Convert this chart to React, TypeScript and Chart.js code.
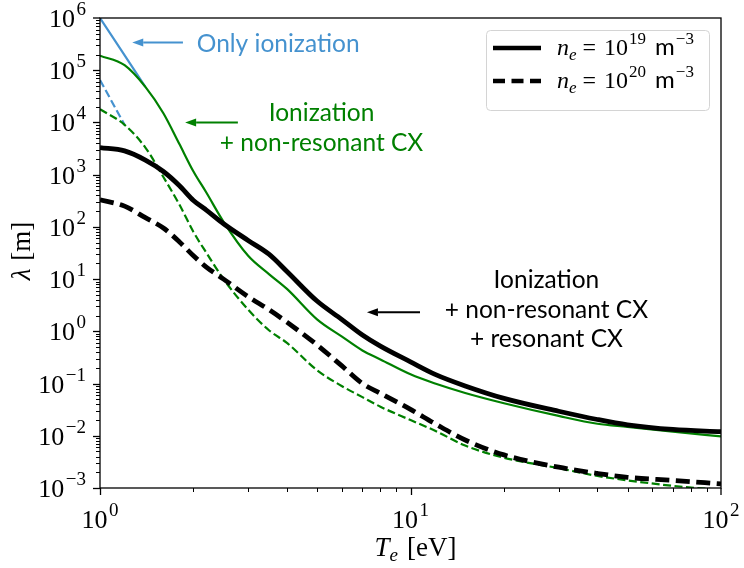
import React, { useEffect, useRef } from "react";
import { Chart, registerables } from "chart.js";

Chart.register(...registerables);

// Electron temperature grid [eV]
const temperatures = [1, 1.2, 1.4, 1.6, 1.8, 2, 2.2, 2.5, 3, 3.5, 4, 5, 6, 7, 8, 10, 12, 15, 20, 30, 40, 50, 70, 100];

// Mean free path [m]: ionization + non-resonant CX + resonant CX
const fullLow = [3300, 2850, 1900, 1150, 620, 320, 210, 115, 55, 30, 14, 3.8, 1.7, 0.85, 0.52, 0.26, 0.15, 0.09, 0.052, 0.0295, 0.0205, 0.0162, 0.0132, 0.012];
const fullHigh = [330, 250, 150, 95, 52, 28, 17, 10, 4.6, 2.6, 1.5, 0.55, 0.22, 0.1, 0.065, 0.032, 0.017, 0.0083, 0.0043, 0.0025, 0.0019, 0.0016, 0.0014, 0.0012];

// Mean free path [m]: ionization + non-resonant CX
const nonResLow = [190000, 125000, 48000, 15000, 3900, 1150, 455, 125, 28, 12.5, 6.5, 1.7, 0.8, 0.43, 0.29, 0.15, 0.1, 0.066, 0.042, 0.024, 0.017, 0.0148, 0.012, 0.0097];
const nonResHigh = [18000, 9000, 3300, 900, 270, 80, 32, 10, 2.6, 1.05, 0.6, 0.18, 0.09, 0.055, 0.036, 0.02, 0.0125, 0.0065, 0.0038, 0.0024, 0.0017, 0.0014, 0.0011, 0.00092];

// Mean free path [m]: ionization only, up to where it joins the CX curves
const ionOnlyLowT = [1, 1.4];
const ionOnlyLow = [1e6, 48000];
const ionOnlyHighT = [1, 1.2];
const ionOnlyHigh = [65000, 9000];

// Decade exponents of the major ticks
const yTickExponents = [-3, -2, -1, 0, 1, 2, 3, 4, 5, 6];
const xTickExponents = [0, 1, 2];

const BLUE = "#4592cf";
const GREEN = "#008000";
const BLACK = "#000000";

const serif = '"Liberation Serif", "DejaVu Serif", serif';
const sans = 'Lato, "DejaVu Sans", sans-serif';

type Run = { text: string; font: string; dy?: number; gap?: number };

function runsWidth(ctx: CanvasRenderingContext2D, runs: Run[]) {
  let w = 0;
  for (const r of runs) {
    ctx.font = r.font;
    w += (r.gap || 0) + ctx.measureText(r.text).width;
  }
  return w;
}

function drawRuns(
  ctx: CanvasRenderingContext2D,
  runs: Run[],
  x: number,
  baseline: number,
  align: "left" | "center" | "right",
  color: string
) {
  const w = runsWidth(ctx, runs);
  let cx = align === "left" ? x : align === "center" ? x - w / 2 : x - w;
  ctx.textAlign = "left";
  ctx.textBaseline = "alphabetic";
  ctx.fillStyle = color;
  for (const r of runs) {
    cx += r.gap || 0;
    ctx.font = r.font;
    ctx.fillText(r.text, cx, baseline + (r.dy || 0));
    cx += ctx.measureText(r.text).width;
  }
}

function powerRuns(exp: number): Run[] {
  const e = exp < 0 ? "\u2212" + Math.abs(exp) : String(exp);
  return [
    { text: "10", font: `26px ${serif}` },
    { text: e, font: `19px ${serif}`, dy: -12, gap: 1.5 },
  ];
}

function drawArrow(
  ctx: CanvasRenderingContext2D,
  x1: number,
  y1: number,
  x2: number,
  y2: number,
  color: string
) {
  const head = 11;
  const half = 4;
  const ang = Math.atan2(y2 - y1, x2 - x1);
  const bx = x2 - head * Math.cos(ang);
  const by = y2 - head * Math.sin(ang);
  ctx.strokeStyle = color;
  ctx.fillStyle = color;
  ctx.lineWidth = 2;
  ctx.setLineDash([]);
  ctx.beginPath();
  ctx.moveTo(x1, y1);
  ctx.lineTo(bx, by);
  ctx.stroke();
  ctx.beginPath();
  ctx.moveTo(x2, y2);
  ctx.lineTo(bx - half * Math.sin(ang), by + half * Math.cos(ang));
  ctx.lineTo(bx + half * Math.sin(ang), by - half * Math.cos(ang));
  ctx.closePath();
  ctx.fill();
}

// Frame, log ticks, math-style labels, annotations and legend
const decorPlugin = {
  id: "decor",
  afterDraw(chart: any) {
    const { ctx, chartArea: a } = chart;
    const xs = chart.scales.x;
    const ys = chart.scales.y;
    ctx.save();

    // frame
    ctx.strokeStyle = BLACK;
    ctx.lineWidth = 1.3;
    ctx.setLineDash([]);
    ctx.strokeRect(a.left, a.top, a.right - a.left, a.bottom - a.top);

    // y ticks
    for (let e = -3; e <= 5; e++) {
      for (let m = 1; m <= 9; m++) {
        const v = m * Math.pow(10, e);
        const py = Math.round(ys.getPixelForValue(v)) + 0.5;
        const len = m === 1 ? 7 : 4;
        ctx.lineWidth = m === 1 ? 1.3 : 1;
        ctx.beginPath();
        ctx.moveTo(a.left - len, py);
        ctx.lineTo(a.left, py);
        ctx.stroke();
      }
    }
    {
      const py = ys.getPixelForValue(1e6);
      ctx.lineWidth = 1.3;
      ctx.beginPath();
      ctx.moveTo(a.left - 7, py);
      ctx.lineTo(a.left, py);
      ctx.stroke();
    }
    // x ticks
    for (let e = 0; e <= 1; e++) {
      for (let m = 1; m <= 9; m++) {
        const v = m * Math.pow(10, e);
        const px = Math.round(xs.getPixelForValue(v)) + 0.5;
        const len = m === 1 ? 7 : 4;
        ctx.lineWidth = m === 1 ? 1.3 : 1;
        ctx.beginPath();
        ctx.moveTo(px, a.bottom);
        ctx.lineTo(px, a.bottom + len);
        ctx.stroke();
      }
    }
    {
      const px = xs.getPixelForValue(100);
      ctx.lineWidth = 1.3;
      ctx.beginPath();
      ctx.moveTo(px, a.bottom);
      ctx.lineTo(px, a.bottom + 7);
      ctx.stroke();
    }

    // tick labels
    for (const e of yTickExponents) {
      const py = ys.getPixelForValue(Math.pow(10, e));
      drawRuns(ctx, powerRuns(e), a.left - 14, py + 9, "right", BLACK);
    }
    for (const e of xTickExponents) {
      const px = xs.getPixelForValue(Math.pow(10, e));
      drawRuns(ctx, powerRuns(e), px, a.bottom + 40, "center", BLACK);
    }

    // axis titles
    drawRuns(
      ctx,
      [
        { text: "T", font: `italic 27px ${serif}` },
        { text: "e", font: `italic 19px ${serif}`, dy: 5 },
        { text: "[eV]", font: `27px ${serif}`, gap: 9 },
      ],
      (a.left + a.right) / 2 + 5,
      a.bottom + 68,
      "center",
      BLACK
    );
    ctx.save();
    ctx.translate(30, (a.top + a.bottom) / 2 - 2);
    ctx.rotate(-Math.PI / 2);
    drawRuns(
      ctx,
      [
        { text: "\u03bb", font: `italic 27px ${serif}` },
        { text: "[m]", font: `27px ${serif}`, gap: 8 },
      ],
      0,
      0,
      "center",
      BLACK
    );
    ctx.restore();

    // annotations
    const P = (t: number, l: number) => [xs.getPixelForValue(t), ys.getPixelForValue(l)];
    const f = `24.5px ${sans}`;

    let [ax1, ay] = P(1.85, 3.4e5);
    let [ax2] = P(1.27, 3.4e5);
    drawArrow(ctx, ax1, ay, ax2, ay, BLUE);
    let [tx, ty] = P(2.05, 2.23e5);
    drawRuns(ctx, [{ text: "Only ionization", font: f }], tx, ty, "left", BLUE);

    [ax1, ay] = P(2.78, 1e4);
    [ax2] = P(1.88, 1e4);
    drawArrow(ctx, ax1, ay, ax2, ay, GREEN);
    [tx, ty] = P(5.17, 1.06e4);
    drawRuns(ctx, [{ text: "Ionization", font: f }], tx, ty, "center", GREEN);
    drawRuns(ctx, [{ text: "+ non-resonant CX", font: f }], tx, ty + 30, "center", GREEN);

    [ax1, ay] = P(10.73, 2.33);
    [ax2] = P(7.24, 2.33);
    drawArrow(ctx, ax1, ay, ax2, ay, BLACK);
    [tx, ty] = P(27.4, 6.7);
    drawRuns(ctx, [{ text: "Ionization", font: f }], tx, ty, "center", BLACK);
    drawRuns(ctx, [{ text: "+ non-resonant CX", font: f }], tx, ty + 29.5, "center", BLACK);
    drawRuns(ctx, [{ text: "+ resonant CX", font: f }], tx, ty + 59, "center", BLACK);

    // legend
    const lx = 486, ly = 30, lw = 223, lh = 80;
    ctx.beginPath();
    ctx.roundRect(lx + 0.5, ly + 0.5, lw, lh, 4);
    ctx.fillStyle = "rgba(255,255,255,0.8)";
    ctx.fill();
    ctx.strokeStyle = "#d4d4d4";
    ctx.lineWidth = 1;
    ctx.stroke();

    const rows = [
      { exp: "19", dash: [] as number[], y: 48 },
      { exp: "20", dash: [12, 6.5], y: 81 },
    ];
    for (const row of rows) {
      ctx.strokeStyle = BLACK;
      ctx.lineWidth = 4.5;
      ctx.setLineDash(row.dash);
      ctx.beginPath();
      ctx.moveTo(493, row.y);
      ctx.lineTo(541, row.y);
      ctx.stroke();
      ctx.setLineDash([]);
      drawRuns(
        ctx,
        [
          { text: "n", font: `italic 24px ${serif}` },
          { text: "e", font: `italic 17px ${serif}`, dy: 5 },
          { text: "=", font: `24px ${serif}`, gap: 6 },
          { text: "10", font: `24px ${serif}`, gap: 8 },
          { text: row.exp, font: `17px ${serif}`, dy: -11, gap: 1 },
          { text: "m", font: `24px ${sans}`, gap: 9 },
          { text: "\u22123", font: `17px ${serif}`, dy: -11, gap: 1 },
        ],
        557,
        row.y + 7,
        "left",
        BLACK
      );
    }
    ctx.restore();
  },
};

function pts(ts: number[], vs: number[]) {
  return ts.map((t, i) => ({ x: t, y: vs[i] }));
}

export default function App() {
  const ref = useRef<HTMLCanvasElement | null>(null);

  useEffect(() => {
    if (!ref.current) return;
    const line = (data: any, color: string, width: number, dash: number[]) => ({
      data,
      borderColor: color,
      backgroundColor: color,
      borderWidth: width,
      borderDash: dash,
      pointRadius: 0,
      fill: false,
      cubicInterpolationMode: "monotone" as const,
    });
    const chart = new Chart(ref.current, {
      type: "line",
      data: {
        datasets: [
          line(pts(temperatures, fullLow), BLACK, 4.8, []),
          line(pts(temperatures, fullHigh), BLACK, 4.8, [14, 6.5]),
          line(pts(temperatures, nonResLow), GREEN, 2.2, []),
          line(pts(temperatures, nonResHigh), GREEN, 2.2, [8, 3.5]),
          line(pts(ionOnlyLowT, ionOnlyLow), BLUE, 2.2, []),
          line(pts(ionOnlyHighT, ionOnlyHigh), BLUE, 2.2, [8, 3.5]),
        ],
      },
      options: {
        animation: false,
        responsive: false,
        devicePixelRatio: 1,
        layout: { padding: { left: 100, top: 18, right: 23, bottom: 80 } },
        plugins: { legend: { display: false }, tooltip: { enabled: false } },
        scales: {
          x: {
            type: "logarithmic",
            min: 1,
            max: 100,
            ticks: { display: false },
            grid: { display: false },
            border: { display: false },
            afterFit: (s: any) => {
              s.height = 0;
            },
          },
          y: {
            type: "logarithmic",
            min: 1e-3,
            max: 1e6,
            ticks: { display: false },
            grid: { display: false },
            border: { display: false },
            afterFit: (s: any) => {
              s.width = 0;
            },
          },
        },
      },
      plugins: [decorPlugin],
    });
    return () => chart.destroy();
  }, []);

  return (
    <div style={{ position: "absolute", left: 0, top: 0, width: 744, height: 568, background: "#fff" }}>
      <canvas ref={ref} width={744} height={568} style={{ display: "block" }} />
    </div>
  );
}
